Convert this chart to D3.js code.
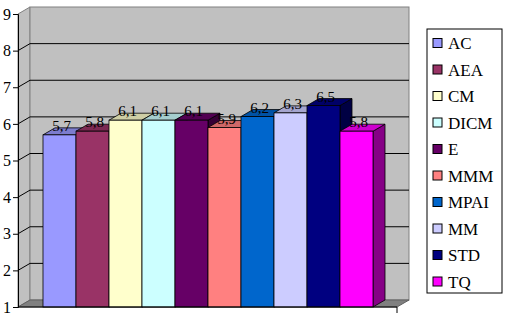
<!DOCTYPE html>
<html>
<head>
<meta charset="utf-8">
<script src="https://cdn.jsdelivr.net/npm/d3@7"></script>
</head>
<body style="margin:0; background:#fff">
<div id="chart"></div>
<script>
// series of the single category, with their values
const series = ['AC', 'AEA', 'CM', 'DICM', 'E', 'MMM', 'MPAI', 'MM', 'STD', 'TQ'];
const values = [5.7, 5.8, 6.1, 6.1, 6.1, 5.9, 6.2, 6.3, 6.5, 5.8];
const colors = ['#9999FF', '#993366', '#FFFFCC', '#CCFFFF', '#660066',
                '#FF8080', '#0066CC', '#CCCCFF', '#000080', '#FF00FF'];
const yTicks = [1, 2, 3, 4, 5, 6, 7, 8, 9];

const width = 509, height = 325;
const depth = { dx: 12, dy: -7 }; // 3D offset of back plane
const font = 'Liberation Serif';

const svg = d3.select('#chart').append('svg')
  .attr('width', width)
  .attr('height', height);

const y = d3.scaleLinear().domain([1, 9]).range([307, 14]);
const x = d3.scaleBand().domain(series).range([43, 373]).padding(0);
const color = d3.scaleOrdinal().domain(series).range(colors);

const left = 18, right = 397;
const pts = p => p.map(d => d.join(',')).join(' ');

// left wall
svg.append('polygon')
  .attr('points', pts([[left, y(1)], [left, y(9)], [left + depth.dx, y(9) + depth.dy], [left + depth.dx, y(1) + depth.dy]]))
  .attr('fill', '#c0c0c0')
  .attr('stroke', '#808080');

// back wall
svg.append('rect')
  .attr('x', left + depth.dx)
  .attr('y', y(9) + depth.dy)
  .attr('width', right - left)
  .attr('height', y(1) - y(9))
  .attr('fill', '#c0c0c0')
  .attr('stroke', '#808080');

// floor
svg.append('polygon')
  .attr('points', pts([[left, y(1)], [right, y(1)], [right + depth.dx, y(1) + depth.dy], [left + depth.dx, y(1) + depth.dy]]))
  .attr('fill', '#808080')
  .attr('stroke', '#606060');

// gridlines on walls
const grid = svg.append('g').attr('stroke', '#000').attr('stroke-width', 1);
grid.selectAll('.gb')
  .data(yTicks.slice(1, -1))
  .enter().append('line')
    .attr('x1', left + depth.dx)
    .attr('x2', right + depth.dx)
    .attr('y1', d => y(d) + depth.dy)
    .attr('y2', d => y(d) + depth.dy);
grid.selectAll('.gl')
  .data(yTicks.slice(1, -1))
  .enter().append('line')
    .attr('x1', left)
    .attr('x2', left + depth.dx)
    .attr('y1', d => y(d))
    .attr('y2', d => y(d) + depth.dy);

// bars: side, top and front faces
const barData = series.map((s, i) => ({ name: s, value: values[i] }));
const bars = svg.selectAll('.bar')
  .data(barData)
  .enter().append('g')
    .attr('class', 'bar');

bars.append('polygon') // side
  .attr('points', d => {
    const x1 = x(d.name) + x.bandwidth();
    return pts([[x1, y(d.value)], [x1 + depth.dx, y(d.value) + depth.dy],
                [x1 + depth.dx, y(1) + depth.dy], [x1, y(1)]]);
  })
  .attr('fill', d => d3.color(color(d.name)).darker(1.8))
  .attr('stroke', '#000').attr('stroke-width', 0.8);

bars.append('polygon') // top
  .attr('points', d => {
    const x0 = x(d.name), x1 = x0 + x.bandwidth(), t = y(d.value);
    return pts([[x0, t], [x1, t], [x1 + depth.dx, t + depth.dy], [x0 + depth.dx, t + depth.dy]]);
  })
  .attr('fill', d => d3.color(color(d.name)).darker(0.6))
  .attr('stroke', '#000').attr('stroke-width', 0.8);

bars.append('rect') // front
  .attr('x', d => x(d.name))
  .attr('y', d => y(d.value))
  .attr('width', x.bandwidth())
  .attr('height', d => y(1) - y(d.value))
  .attr('fill', d => color(d.name))
  .attr('stroke', '#000').attr('stroke-width', 0.8);

// value labels, sitting on the top faces
svg.selectAll('.lbl')
  .data(barData)
  .enter().append('text')
    .attr('x', d => x(d.name) + x.bandwidth() / 2 + 2)
    .attr('y', d => y(d.value) - 4)
    .attr('text-anchor', 'middle')
    .attr('font-family', font)
    .attr('font-size', 15)
    .attr('fill', '#000')
    .text(d => String(d.value).replace('.', ','));

// y axis
const axis = svg.append('g')
  .attr('transform', `translate(${left},0)`)
  .call(d3.axisLeft(y).tickValues(yTicks).tickSize(5).tickPadding(2).tickFormat(d3.format('d')));
axis.attr('font-family', font).attr('font-size', 16);
axis.select('.domain').attr('stroke', '#000');
axis.selectAll('text').attr('fill', '#000');

// bottom axis line
svg.append('line')
  .attr('x1', left).attr('x2', right)
  .attr('y1', y(1)).attr('y2', y(1))
  .attr('stroke', '#000');
svg.append('line')
  .attr('x1', right).attr('x2', right)
  .attr('y1', y(1)).attr('y2', y(1) + 6)
  .attr('stroke', '#000');

// legend
const legend = svg.append('g').attr('transform', 'translate(427,29)');
legend.append('rect')
  .attr('width', 75).attr('height', 264)
  .attr('fill', '#fff').attr('stroke', '#000');
const item = legend.selectAll('.item')
  .data(series)
  .enter().append('g')
    .attr('transform', (d, i) => `translate(6,${14 + i * 26.5})`);
item.append('rect')
  .attr('x', 0).attr('y', -4.5)
  .attr('width', 9).attr('height', 9)
  .attr('fill', d => color(d))
  .attr('stroke', '#000');
item.append('text')
  .attr('x', 15).attr('y', 6)
  .attr('font-family', font)
  .attr('font-size', 17)
  .text(d => d);
</script>
</body>
</html>
